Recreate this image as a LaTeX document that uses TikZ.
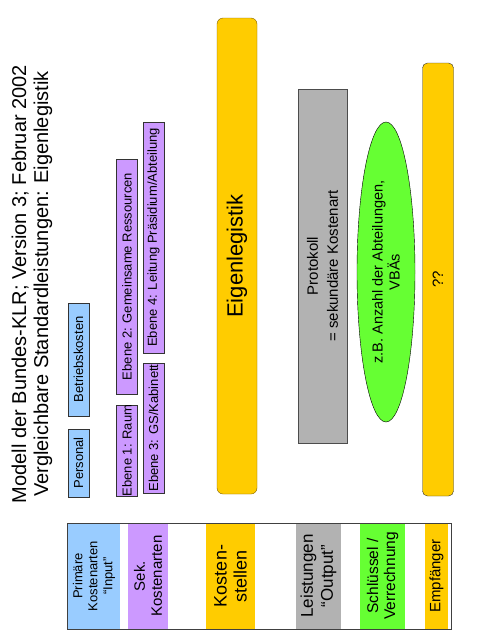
\documentclass[tikz,border=0pt]{standalone}
\usepackage{fontspec}
\setmainfont{Liberation Sans}
\usetikzlibrary{
	shapes,
	shapes.geometric}

\definecolor{klrBlue}{HTML}{99CCFF}
\definecolor{klrLila}{HTML}{CC99FF}
\definecolor{klrGelb}{HTML}{FFCC00}
\definecolor{klrGrau}{HTML}{B2B2B2}
\definecolor{klrGruen}{HTML}{66FF33}
\definecolor{klrRand}{HTML}{806000}

\begin{document}
\begin{tikzpicture}[x=1pt,y=-1pt,every text node part/.style={align=center}]
		\tikzstyle{smallbox}=[draw=black!80,rotate=90,inner sep=0pt,outer sep=0pt,
							minimum height=21pt,font=\fontsize{13}{15}\selectfont]
		\tikzstyle{legcol}=[rotate=90,inner sep=0pt,outer sep=0pt,minimum width=106pt]

		\useasboundingbox (0,0) rectangle (479,640);

		% Titel
		\node[rotate=90,font=\fontsize{20}{22}\selectfont] (title) at (32,284)
			{Modell der Bundes-KLR; Version 3; Februar 2002\\Vergleichbare Standardleistungen: Eigenlegistik};

		% Kostenarten
		\foreach \name/\y/\len/\txt in {personal/463/68/Personal, betrieb/359.5/113/Betriebskosten}
			\node[smallbox,fill=klrBlue,minimum width=\len pt] (\name) at (78.5,\y) {\txt};

		% Ebenen
		\node[smallbox,fill=klrLila,minimum width=85pt] (ebene1) at (127,450.5) {Ebene 1: Raum};
		\node[smallbox,fill=klrLila,minimum width=235pt] (ebene2) at (127,276.5) {Ebene 2: Gemeinsame Ressourcen};
		\node[smallbox,fill=klrLila,minimum width=130pt] (ebene3) at (153.5,428) {Ebene 3: GS/Kabinett};
		\node[smallbox,fill=klrLila,minimum width=231pt] (ebene4) at (153.5,237.5) {Ebene 4: Leitung Präsidium/Abteilung};

		% Kostenstelle
		\node[draw=klrRand,fill=klrGelb,rounded corners=6pt,rotate=90,inner sep=0pt,
			minimum width=476pt,minimum height=40pt,font=\fontsize{22}{26}\selectfont] (eigen) at (237,256) {Eigenlegistik};

		% Leistung
		\node[draw=black!70,fill=klrGrau,rotate=90,inner sep=0pt,minimum width=354pt,minimum height=49pt,
			font=\fontsize{15}{20}\selectfont] (protokoll) at (322.5,266) {Protokoll\\= sekundäre Kostenart};

		% Schluessel
		\node[ellipse,draw=black,fill=klrGruen,rotate=90,inner sep=0pt,minimum width=300pt,minimum height=58pt,
			font=\fontsize{14.5}{17}\selectfont] (schluessel) at (386,272) {z.B. Anzahl der Abteilungen,\\VBÄs};

		% Empfaenger
		\node[draw=black!80,fill=klrGelb,rounded corners=5pt,rotate=90,inner sep=0pt,
			minimum width=433pt,minimum height=31pt,font=\fontsize{15}{18}\selectfont] (empf) at (438,279.5) {??};

		% Legende
		\node[legcol,fill=klrBlue,minimum height=52pt,font=\fontsize{13}{15}\selectfont] (lprim) at (94,576)
			{Primäre\\Kostenarten\\“Input”};
		\node[legcol,fill=klrLila,minimum height=40pt,font=\fontsize{15}{17}\selectfont] (lsek) at (148,576)
			{Sek.\\Kostenarten};
		\node[legcol,fill=klrGelb,minimum height=49pt,font=\fontsize{18}{20}\selectfont] (lkst) at (230.5,576)
			{Kosten-\\stellen};
		\node[legcol,fill=klrGrau,minimum height=45pt,font=\fontsize{17}{20}\selectfont] (lleist) at (318.5,576)
			{Leistungen\\“Output”};
		\node[legcol,fill=klrGruen,minimum height=45pt,font=\fontsize{15.5}{17}\selectfont] (lschl) at (382.5,576)
			{Schlüssel /\\Verrechnung};
		\node[legcol,fill=klrGelb,minimum height=23pt,font=\fontsize{15}{17}\selectfont] (lempf) at (436.5,576)
			{Empfänger};
		\node[draw=black!75,line width=1pt,inner sep=0pt,minimum width=384pt,minimum height=106pt] (legend) at (259,576) {};

	\end{tikzpicture}
\end{document}
